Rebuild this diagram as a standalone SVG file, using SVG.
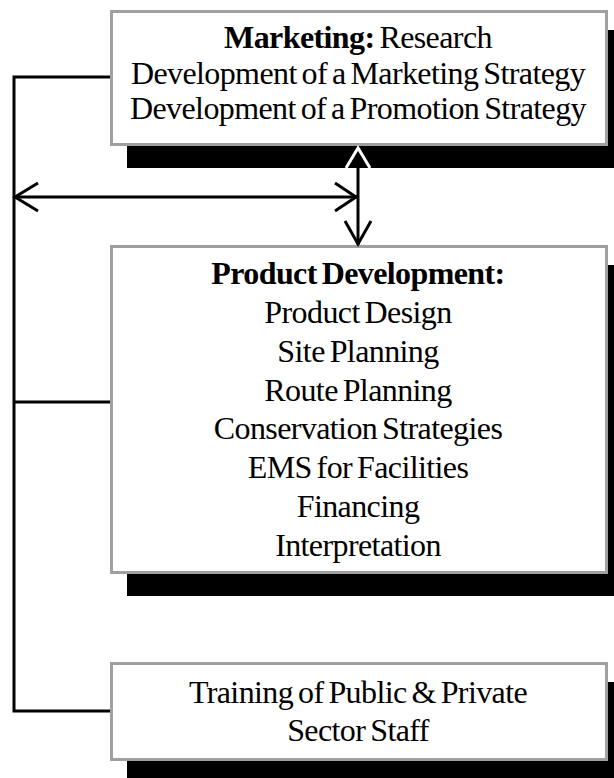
<svg xmlns="http://www.w3.org/2000/svg" width="614" height="778" viewBox="0 0 614 778">
  <style>
    .shadow { fill: #000; }
    .box { fill: #fff; stroke: #a0a0a0; stroke-width: 3; }
    .label { font-family: "Liberation Serif", "Times New Roman", serif; font-size: 32px; fill: #000; text-anchor: middle; letter-spacing: -0.6px; word-spacing: -2.5px; }
    .bold { font-weight: bold; }
    .wire { fill: none; stroke: #000; stroke-width: 3; }
    .halo { fill: none; stroke: #fff; stroke-width: 3; }
  </style>
  <rect width="614" height="778" fill="#fff"/>

  <!-- Marketing -->
  <g id="marketing">
    <rect class="shadow" x="127" y="30" width="498" height="138"/>
    <rect class="box" x="111.5" y="11.5" width="495" height="133"/>
    <text class="label" x="358" y="48"><tspan class="bold">Marketing:</tspan> Research</text>
    <text class="label" x="358" y="84">Development of a Marketing Strategy</text>
    <text class="label" x="358" y="119">Development of a Promotion Strategy</text>
  </g>

  <!-- Product development -->
  <g id="product-development">
    <rect class="shadow" x="127" y="265" width="498" height="331"/>
    <rect class="box" x="111.5" y="246.5" width="495" height="326"/>
    <text class="label bold" x="358" y="284">Product Development:</text>
    <text class="label" x="358" y="323">Product Design</text>
    <text class="label" x="358" y="362">Site Planning</text>
    <text class="label" x="358" y="401">Route Planning</text>
    <text class="label" x="358" y="439">Conservation Strategies</text>
    <text class="label" x="358" y="478">EMS for Facilities</text>
    <text class="label" x="358" y="517">Financing</text>
    <text class="label" x="358" y="556">Interpretation</text>
  </g>

  <!-- Training -->
  <g id="training">
    <rect class="shadow" x="127" y="682" width="498" height="110"/>
    <rect class="box" x="111.5" y="663.5" width="495" height="96"/>
    <text class="label" x="358" y="703">Training of Public &amp; Private</text>
    <text class="label" x="358" y="741">Sector Staff</text>
  </g>

  <!-- Connectors -->
  <g id="connectors">
    <!-- side bus -->
    <polyline class="wire" points="110,77 14,77 14,711 110,711"/>
    <line class="wire" x1="14" y1="402" x2="110" y2="402"/>
    <!-- horizontal two-way arrow -->
    <line class="wire" x1="14" y1="197" x2="357" y2="197"/>
    <polyline class="wire" points="38,183 15,197 38,211"/>
    <polyline class="wire" points="335,183 356,197 335,211"/>
    <!-- vertical two-way arrow -->
    <line class="wire" x1="358" y1="148" x2="358" y2="245"/>
    <polyline class="halo" points="346,168 358,148 370,168"/>
    <polyline class="wire" points="345,221 358,244 371,221"/>
  </g>
</svg>
